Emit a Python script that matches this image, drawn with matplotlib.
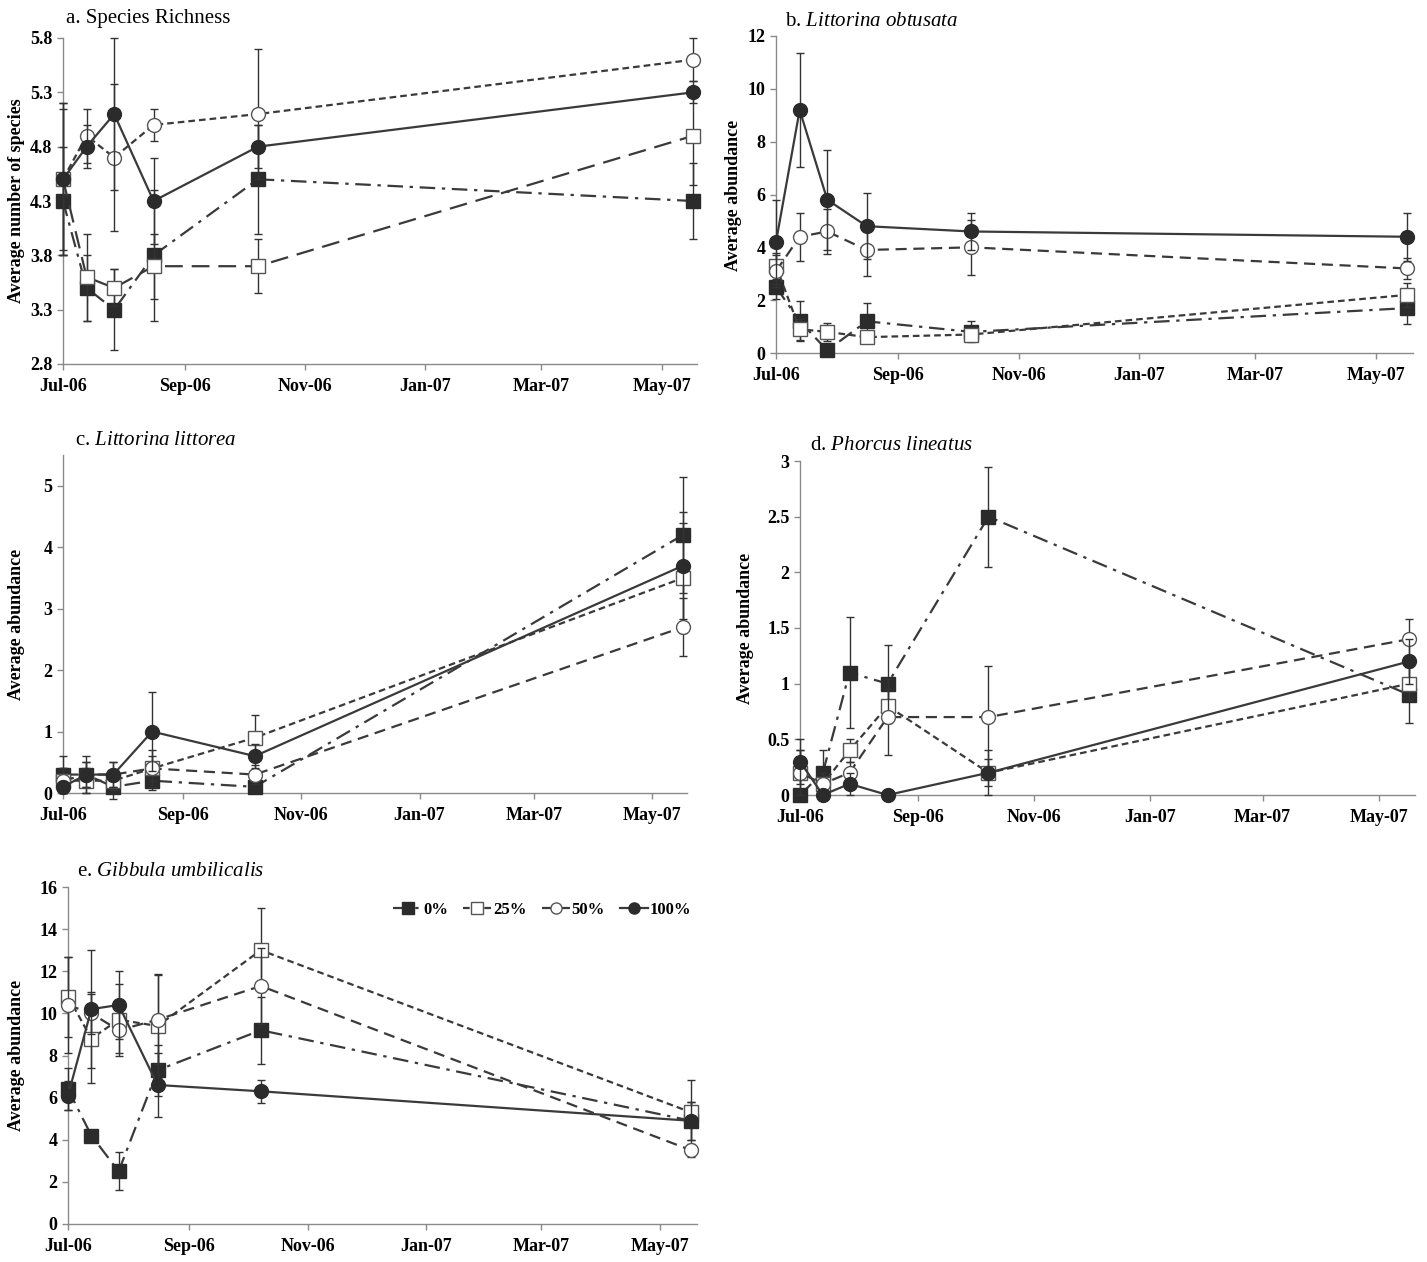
import datetime as dt
import numpy as np
import matplotlib
matplotlib.use('Agg')
import matplotlib.pyplot as plt
import matplotlib.dates as mdates
from matplotlib.lines import Line2D

plt.rcParams['font.family'] = ['Liberation Serif', 'DejaVu Serif']
plt.rcParams['mathtext.fontset'] = 'custom'
plt.rcParams['mathtext.rm'] = 'Liberation Serif'
plt.rcParams['mathtext.it'] = 'Liberation Serif:italic'

# sampling dates
dates = [dt.date(2006, 7, 1), dt.date(2006, 7, 13), dt.date(2006, 7, 27),
         dt.date(2006, 8, 16), dt.date(2006, 10, 8), dt.date(2007, 5, 17)]
treatments = ['0%', '25%', '50%', '100%']

# a. species richness
rich_mean = [[4.3, 3.5, 3.3, 3.8, 4.5, 4.3],
             [4.5, 3.6, 3.5, 3.7, 3.7, 4.9],
             [4.5, 4.9, 4.7, 5.0, 5.1, 5.6],
             [4.5, 4.8, 5.1, 4.3, 4.8, 5.3]]
rich_err = [[0.5, 0.3, 0.37, 0.6, 0.5, 0.35],
            [0.7, 0.4, 0.17, 0.3, 0.25, 0.45],
            [0.7, 0.25, 0.68, 0.15, 0.6, 0.2],
            [0.65, 0.2, 0.7, 0.4, 0.2, 0.1]]

# b. Littorina obtusata
obt_mean = [[2.5, 1.2, 0.1, 1.2, 0.8, 1.7],
            [3.3, 0.9, 0.8, 0.6, 0.7, 2.2],
            [3.1, 4.4, 4.6, 3.9, 4.0, 3.2],
            [4.2, 9.2, 5.8, 4.8, 4.6, 4.4]]
obt_err = [[0.45, 0.75, 0.1, 0.7, 0.4, 0.6],
           [0.5, 0.4, 0.35, 0.2, 0.25, 0.45],
           [0.6, 0.9, 0.85, 1.0, 1.05, 0.4],
           [1.6, 2.15, 1.9, 1.25, 0.7, 0.9]]

# c. Littorina littorea
lit_mean = [[0.3, 0.3, 0.1, 0.2, 0.1, 4.2],
            [0.2, 0.2, 0.2, 0.4, 0.9, 3.5],
            [0.2, 0.3, 0.3, 0.4, 0.3, 2.7],
            [0.1, 0.3, 0.3, 1.0, 0.6, 3.7]]
lit_err = [[0.3, 0.3, 0.2, 0.15, 0.05, 0.95],
           [0.2, 0.2, 0.15, 0.2, 0.37, 0.9],
           [0.2, 0.2, 0.2, 0.3, 0.15, 0.47],
           [0.1, 0.2, 0.2, 0.65, 0.2, 0.87]]

# d. Phorcus lineatus
pho_mean = [[0.0, 0.2, 1.1, 1.0, 2.5, 0.9],
            [0.2, 0.1, 0.4, 0.8, 0.2, 1.0],
            [0.2, 0.1, 0.2, 0.7, 0.7, 1.4],
            [0.3, 0.0, 0.1, 0.0, 0.2, 1.2]]
pho_err = [[0.0, 0.2, 0.5, 0.35, 0.45, 0.25],
           [0.2, 0.1, 0.1, 0.15, 0.2, 0.15],
           [0.2, 0.1, 0.1, 0.34, 0.46, 0.18],
           [0.2, 0.0, 0.1, 0.0, 0.12, 0.2]]

# e. Gibbula umbilicalis
gib_mean = [[6.4, 4.2, 2.5, 7.3, 9.2, 4.9],
            [10.8, 8.8, 9.7, 9.4, 13.0, 5.3],
            [10.4, 10.0, 9.2, 9.7, 11.3, 3.5],
            [6.1, 10.2, 10.4, 6.6, 6.3, 4.9]]
gib_err = [[1.0, 0.0, 0.9, 1.2, 1.6, 0.9],
           [1.9, 2.1, 1.7, 2.45, 2.0, 1.55],
           [2.3, 1.0, 1.1, 2.1, 1.8, 0.3],
           [0.7, 2.8, 1.6, 1.5, 0.55, 0.9]]

line_col = '#3a3a3a'
styles = {
    '0%': dict(ls=(0, (7, 3, 1.5, 3)), marker='s', mfc='#2b2b2b', mec='#2b2b2b'),
    '25%': dict(ls=(0, (3, 1.8)), marker='s', mfc='white', mec='#555555'),
    '50%': dict(ls=(0, (5, 3)), marker='o', mfc='white', mec='#555555'),
    '100%': dict(ls='-', marker='o', mfc='#2b2b2b', mec='#2b2b2b'),
}

W, H = 1427, 1262
fig = plt.figure(figsize=(W / 100, H / 100), dpi=100)


def make_ax(l, r, t, b):
    return fig.add_axes([l / W, 1 - b / H, (r - l) / W, (b - t) / H])


def draw_panel(ax, means, errs, ylim, yticks, yfmt, xend, swap_ab=False):
    for i, tr in enumerate(treatments):
        st = dict(styles[tr])
        if swap_ab and tr == '25%':
            st['ls'] = (0, (8, 4))
        if swap_ab and tr == '50%':
            st['ls'] = (0, (3, 1.8))
        ax.errorbar(dates, means[i], yerr=errs[i], color=line_col, lw=1.6,
                    ls=st['ls'], marker=st['marker'], ms=10, mfc=st['mfc'],
                    mec=st['mec'], mew=1.0, ecolor='#333333', elinewidth=1.0,
                    capsize=3, capthick=1.0, zorder=3 + i, clip_on=False)
    ax.set_xlim(dt.date(2006, 7, 1), xend)
    ax.set_ylim(*ylim)
    ax.set_yticks(yticks)
    ax.set_yticklabels([yfmt(v) for v in yticks])
    ax.xaxis.set_major_locator(mdates.MonthLocator(bymonth=[1, 3, 5, 7, 9, 11]))
    ax.xaxis.set_major_formatter(mdates.DateFormatter('%b-%y'))
    for s in ['top', 'right']:
        ax.spines[s].set_visible(False)
    for s in ['left', 'bottom']:
        ax.spines[s].set_color('#8a8a8a')
        ax.spines[s].set_linewidth(1.0)
    ax.tick_params(axis='both', colors='#8a8a8a', labelcolor='black',
                   length=4, width=1, labelsize=13)
    ax.tick_params(axis='x', pad=6)
    for lab in ax.get_xticklabels() + ax.get_yticklabels():
        lab.set_fontweight('bold')


fmt1 = lambda v: '%.1f' % v
fmtg = lambda v: '%g' % v

ax_a = make_ax(63, 697, 38, 364)
draw_panel(ax_a, rich_mean, rich_err, (2.8, 5.8), np.arange(2.8, 5.81, 0.5), fmt1,
           dt.date(2007, 5, 19), swap_ab=True)
ax_b = make_ax(776, 1413, 36, 353)
draw_panel(ax_b, obt_mean, obt_err, (0, 12), np.arange(0, 13, 2), fmtg,
           dt.date(2007, 5, 20))
ax_c = make_ax(63, 687, 455, 793)
draw_panel(ax_c, lit_mean, lit_err, (0, 5.5), np.arange(0, 6, 1), fmtg,
           dt.date(2007, 5, 19))
ax_d = make_ax(800, 1415, 461, 795)
draw_panel(ax_d, pho_mean, pho_err, (0, 3), np.arange(0, 3.01, 0.5), fmtg,
           dt.date(2007, 5, 20))
ax_e = make_ax(68, 697, 887, 1224)
draw_panel(ax_e, gib_mean, gib_err, (0, 16), np.arange(0, 17, 2), fmtg,
           dt.date(2007, 5, 20))

# panel titles
fig.text(66 / W, 1 - 18 / H, 'a. Species Richness', fontsize=15, va='center')
fig.text(785 / W, 1 - 22 / H, r'b. $\mathit{Littorina\ obtusata}$', fontsize=15, va='center')
fig.text(75 / W, 1 - 440 / H, r'c. $\mathit{Littorina\ littorea}$', fontsize=15, va='center')
fig.text(810 / W, 1 - 445 / H, r'd. $\mathit{Phorcus\ lineatus}$', fontsize=15, va='center')
fig.text(77 / W, 1 - 872 / H, r'e. $\mathit{Gibbula\ umbilicalis}$', fontsize=15, va='center')

# y labels
ylab = dict(rotation=90, fontsize=13, fontweight='bold', ha='center', va='center')
fig.text(17 / W, 1 - 201 / H, 'Average number of species', **ylab)
fig.text(733 / W, 1 - 195 / H, 'Average abundance', **ylab)
fig.text(17 / W, 1 - 624 / H, 'Average abundance', **ylab)
fig.text(745 / W, 1 - 628 / H, 'Average abundance', **ylab)
fig.text(17 / W, 1 - 1055 / H, 'Average abundance', **ylab)

# legend
handles = [Line2D([], [], color=line_col, lw=1.6, ls=styles[t]['ls'],
                  marker=styles[t]['marker'], ms=8, mfc=styles[t]['mfc'],
                  mec=styles[t]['mec']) for t in treatments]
leg = ax_e.legend(handles, treatments, loc='upper right', ncol=4, frameon=False,
                  handlelength=1.7, handletextpad=0.1, columnspacing=0.9,
                  bbox_to_anchor=(1.015, 1.0), prop={'weight': 'bold', 'size': 12})

fig.savefig('out.png', dpi=100)
